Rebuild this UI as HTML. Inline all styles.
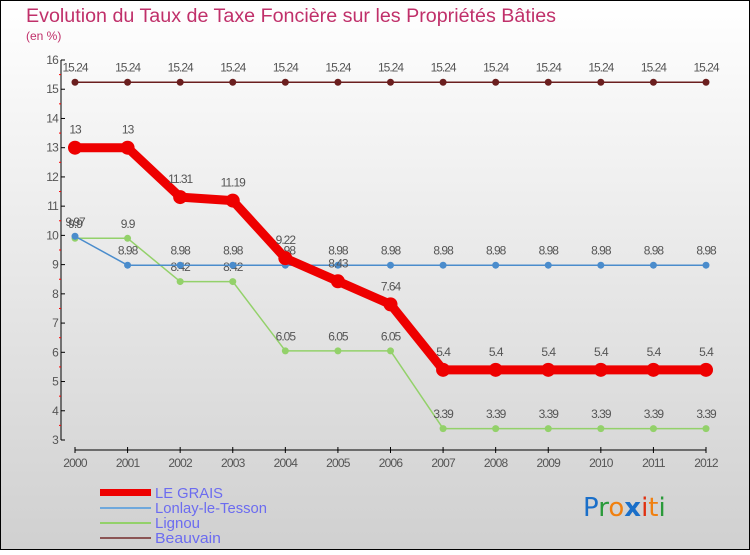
<!DOCTYPE html>
<html><head><meta charset="utf-8"><style>
html,body{margin:0;padding:0}
body{width:750px;height:550px;overflow:hidden;font-family:"Liberation Sans",sans-serif}
</style></head><body>
<svg id="c" width="750" height="550" xmlns="http://www.w3.org/2000/svg">
<defs><linearGradient id="bg" x1="0" y1="0" x2="0" y2="1"><stop offset="0" stop-color="#ffffff"/><stop offset="1" stop-color="#d0d0d0"/></linearGradient></defs>
<rect x="0.5" y="0.5" width="749" height="549" fill="url(#bg)" stroke="#000"/>
<text x="26" y="22" font-size="19" fill="#c0306a" textLength="530" lengthAdjust="spacingAndGlyphs">Evolution du Taux de Taxe Foncière sur les Propriétés Bâties</text>
<text x="26" y="40" font-size="12" fill="#c0306a">(en %)</text>
<g id="axes"></g><g id="series"></g>
<g>
<rect x="100" y="489" width="51" height="7" fill="#e00"/>
<text x="155" y="498" font-size="15" fill="#6c6cf0" textLength="68" lengthAdjust="spacingAndGlyphs">LE GRAIS</text>
<line x1="100" y1="508" x2="151" y2="508" stroke="#6fa8dc" stroke-width="2"/>
<text x="155" y="513" font-size="15" fill="#6c6cf0" textLength="112" lengthAdjust="spacingAndGlyphs">Lonlay-le-Tesson</text>
<line x1="100" y1="523" x2="151" y2="523" stroke="#93d16a" stroke-width="2"/>
<text x="155" y="528" font-size="15" fill="#6c6cf0" textLength="45" lengthAdjust="spacingAndGlyphs">Lignou</text>
<line x1="100" y1="538" x2="151" y2="538" stroke="#8b5555" stroke-width="2"/>
<text x="155" y="543" font-size="15" fill="#6c6cf0" textLength="66" lengthAdjust="spacingAndGlyphs">Beauvain</text>
</g>
<text x="583" y="516" font-size="26" font-family="DejaVu Sans, sans-serif"><tspan fill="#1a6fc9">P</tspan><tspan fill="#2a9a3a">r</tspan><tspan fill="#f08010">o</tspan><tspan fill="#1a6fc9" font-weight="bold">x</tspan><tspan fill="#e03010">i</tspan><tspan fill="#f08010">t</tspan><tspan fill="#2a9a3a">i</tspan></text>
</svg>
<script>
const years=[2000,2001,2002,2003,2004,2005,2006,2007,2008,2009,2010,2011,2012];
const yTicks=[3,4,5,6,7,8,9,10,11,12,13,14,15,16];
const leGrais=[13,13,11.31,11.19,9.22,8.43,7.64,5.4,5.4,5.4,5.4,5.4,5.4];
const lonlay=[9.97,8.98,8.98,8.98,8.98,8.98,8.98,8.98,8.98,8.98,8.98,8.98,8.98];
const lignou=[9.9,9.9,8.42,8.42,6.05,6.05,6.05,3.39,3.39,3.39,3.39,3.39,3.39];
const beauvain=[15.24,15.24,15.24,15.24,15.24,15.24,15.24,15.24,15.24,15.24,15.24,15.24,15.24];
const NS="http://www.w3.org/2000/svg";
const xS=i=>75+i*(706-75)/(years.length-1);
const yS=v=>440-(v-3)*(380/13);
function mk(t,a,p){const e=document.createElementNS(NS,t);for(const k in a)e.setAttribute(k,a[k]);p.appendChild(e);return e;}
const ax=document.getElementById('axes');
let e=mk('line',{x1:61,y1:yS(16),x2:61,y2:yS(3),stroke:'#000'},ax);


e=mk('line',{x1:75,y1:450,x2:706,y2:450,stroke:'#000'},ax);


yTicks.forEach(v=>{
 mk('line',{x1:61,y1:yS(v),x2:65,y2:yS(v),stroke:'#000'},ax);
 if(v<16) mk('line',{x1:59,y1:yS(v+0.5),x2:61,y2:yS(v+0.5),stroke:'#f00'},ax);
 const t=mk('text',{x:58,y:yS(v)+4,'font-size':12,fill:'#555','text-anchor':'end','letter-spacing':'-0.8'},ax);
 t.textContent=v;
 
 
});
years.forEach((y,i)=>{
 mk('line',{x1:xS(i),y1:447,x2:xS(i),y2:453,stroke:'#000'},ax);
 const t=mk('text',{x:xS(i),y:467,'font-size':12,fill:'#555','text-anchor':'middle','letter-spacing':'-0.8'},ax);
 t.textContent=y;
 
 
});
const sg=document.getElementById('series');
function draw(data,color,w,r,name){
 const g=mk('g',{},sg);
 
 
 const pl=mk('polyline',{points:data.map((v,i)=>xS(i)+','+yS(v)).join(' '),fill:'none',stroke:color,'stroke-width':w,'stroke-linejoin':'round'},g);
 
 
 data.forEach((v,i)=>{
  const c=mk('circle',{cx:xS(i),cy:yS(v),r:r,fill:color},g);
  
  
  const t=mk('text',{x:xS(i),y:yS(v)-(r+7),'font-size':12,fill:'#555','text-anchor':'middle','letter-spacing':'-1'},g);
  t.textContent=v;
  
  
 });
}
draw(beauvain,'#6b1f1f',1.5,3.5,'beauvain');
draw(lignou,'#93d16a',1.5,3.5,'lignou');
draw(lonlay,'#4a8ccc',1.5,3.5,'lonlay');
draw(leGrais,'#ee0000',9,7,'le-grais');
</script>
</body></html>
